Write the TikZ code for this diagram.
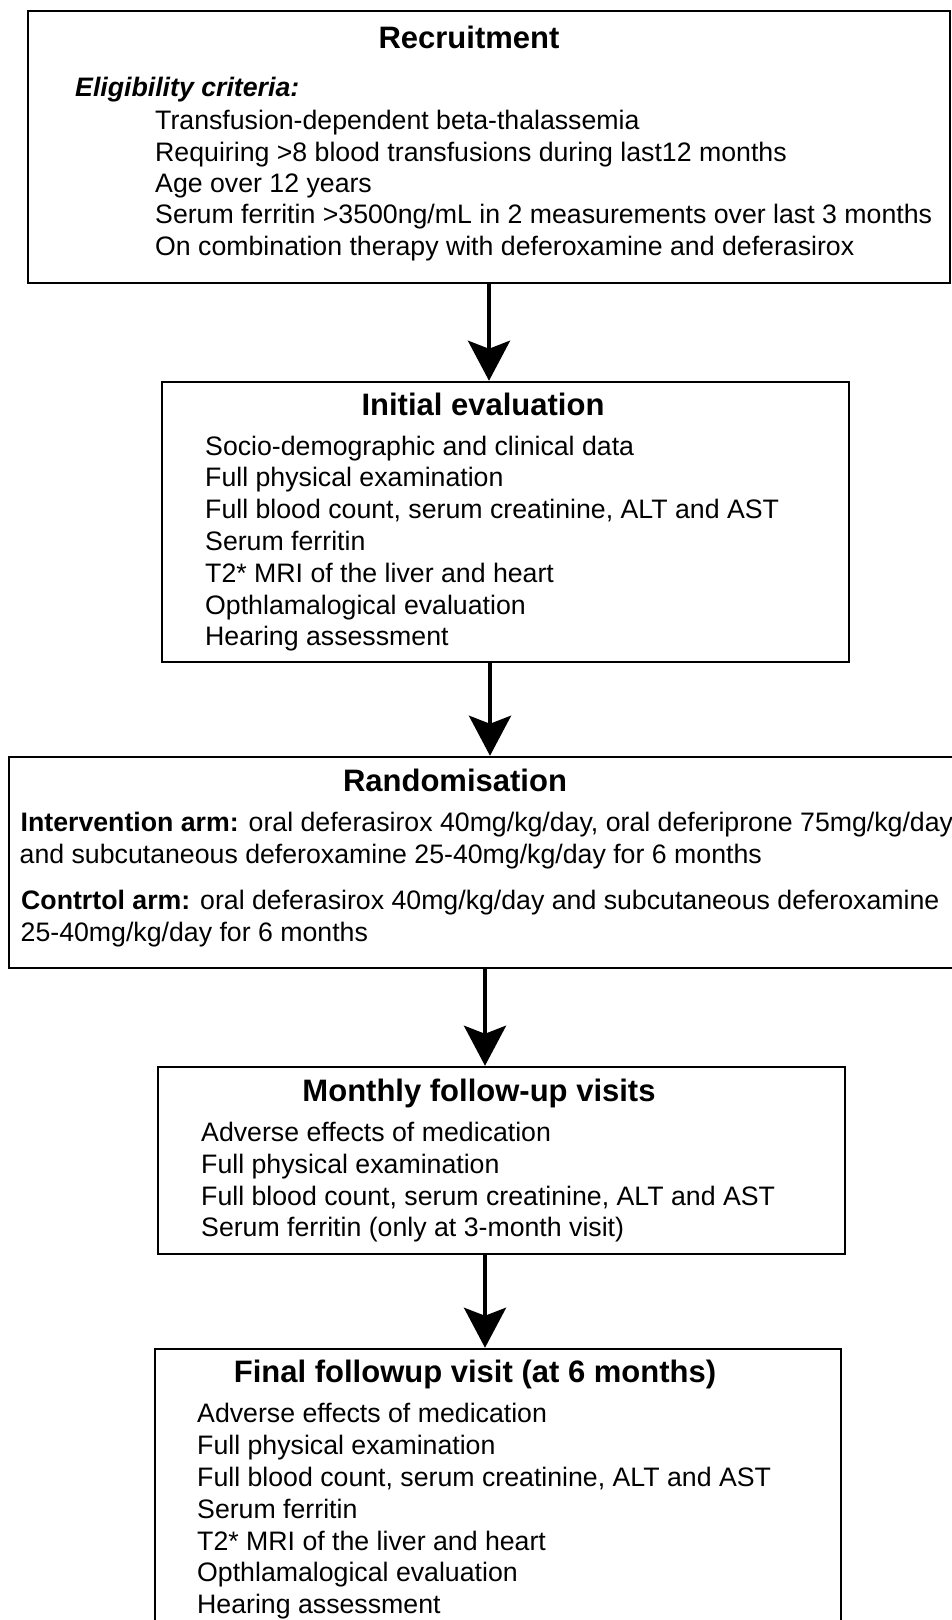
\documentclass[tikz,border=0pt]{standalone}
\usepackage{fontspec}
\setmainfont{Liberation Sans}
\usetikzlibrary{arrows.meta}
\begin{document}
\begin{tikzpicture}[x=1pt,y=-1pt,
  box/.style={draw, line width=2.5pt, rectangle, inner sep=0pt},
  ttl/.style={anchor=base, inner sep=0pt, font=\fontsize{31}{36}\selectfont\bfseries},
  itm/.style={anchor=base west, inner sep=0pt, font=\fontsize{26.7}{32}\selectfont},
  arr/.style={line width=4pt, -{Stealth[length=40pt,width=42pt,inset=8pt]}}]
\useasboundingbox (0,0) rectangle (952,1620);
\clip (0,0) rectangle (952,1620);

% boxes
\node[box, minimum width=922pt, minimum height=272pt] (b1) at (489,147) {};
\node[box, minimum width=687pt, minimum height=280pt] (b2) at (505.5,522) {};
\node[box, minimum width=991pt, minimum height=211pt] (b3) at (504.5,862.5) {};
\node[box, minimum width=687pt, minimum height=187pt] (b4) at (501.5,1160.5) {};
\node[box, minimum width=686pt, minimum height=351pt] (b5) at (498,1524.5) {};

% box 1
\node[ttl] (t1) at (469,48) {Recruitment};
\node[itm, font=\fontsize{26.7}{32}\selectfont\bfseries\itshape] (e1) at (75,96) {Eligibility criteria:};
\node[itm] (r1) at (155,129) {Transfusion-dependent beta-thalassemia};
\node[itm] (r2) at (155,161) {Requiring >8 blood transfusions during last12 months};
\node[itm] (r3) at (155,192) {Age over 12 years};
\node[itm] (r4) at (155,223) {Serum ferritin >3500ng/mL in 2 measurements over last 3 months};
\node[itm] (r5) at (155,255) {On combination therapy with deferoxamine and deferasirox};

% box 2
\node[ttl] (t2) at (483,415) {Initial evaluation};
\node[itm] (i1) at (205,455) {Socio-demographic and clinical data};
\node[itm] (i2) at (205,486.8) {Full physical examination};
\node[itm] (i3) at (205,518.6) {Full blood count, serum creatinine, ALT and AST};
\node[itm] (i4) at (205,550.4) {Serum ferritin};
\node[itm] (i5) at (205,582.2) {T2* MRI of the liver and heart};
\node[itm] (i6) at (205,614) {Opthlamalogical evaluation};
\node[itm] (i7) at (205,645.8) {Hearing assessment};

% box 3
\node[ttl] (t3) at (455,791) {Randomisation};
\node[itm] (n1) at (20.5,831) {\textbf{Intervention arm:} oral deferasirox 40mg/kg/day, oral deferiprone 75mg/kg/day};
\node[itm] (n2) at (19.5,863) {and subcutaneous deferoxamine 25-40mg/kg/day for 6 months};
\node[itm] (c1) at (21,909) {\textbf{Contrtol arm:} oral deferasirox 40mg/kg/day and subcutaneous deferoxamine};
\node[itm] (c2) at (20.5,941) {25-40mg/kg/day for 6 months};

% box 4
\node[ttl] (t4) at (479,1101) {Monthly follow-up visits};
\node[itm] (m1) at (201,1141) {Adverse effects of medication};
\node[itm] (m2) at (201,1173) {Full physical examination};
\node[itm] (m3) at (201,1205) {Full blood count, serum creatinine, ALT and AST};
\node[itm] (m4) at (201,1236) {Serum ferritin (only at 3-month visit)};

% box 5
\node[ttl] (t5) at (475,1382) {Final followup visit (at 6 months)};
\node[itm] (f1) at (197,1422) {Adverse effects of medication};
\node[itm] (f2) at (197,1454) {Full physical examination};
\node[itm] (f3) at (197,1486) {Full blood count, serum creatinine, ALT and AST};
\node[itm] (f4) at (197,1518) {Serum ferritin};
\node[itm] (f5) at (197,1550) {T2* MRI of the liver and heart};
\node[itm] (f6) at (197,1581) {Opthlamalogical evaluation};
\node[itm] (f7) at (197,1613) {Hearing assessment};

% arrows
\coordinate (a1) at (489,0);
\coordinate (a2) at (490,0);
\coordinate (a3) at (485,0);
\coordinate (a4) at (485,0);
\draw[arr] (b1.south -| a1) -- (b2.north -| a1);
\draw[arr] (b2.south -| a2) -- (b3.north -| a2);
\draw[arr] (b3.south -| a3) -- (b4.north -| a3);
\draw[arr] (b4.south -| a4) -- (b5.north -| a4);
\end{tikzpicture}
\end{document}
